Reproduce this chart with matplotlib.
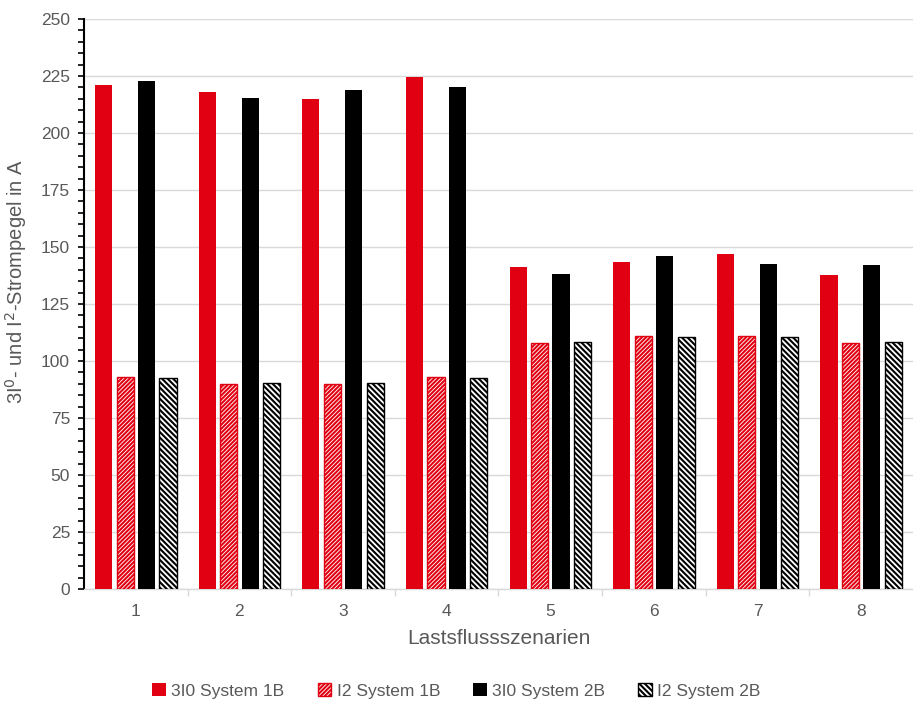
import matplotlib
matplotlib.use("Agg")
import matplotlib.pyplot as plt
import numpy as np

# Data
scenarios = ["1", "2", "3", "4", "5", "6", "7", "8"]
i0_sys1b = [221, 218, 215, 224.5, 141, 143.5, 147, 137.5]
i2_sys1b = [93, 90, 90, 93, 108, 111, 111, 108]
i0_sys2b = [223, 215.5, 219, 220, 138, 146, 142.5, 142]
i2_sys2b = [92.5, 90.5, 90.5, 92.5, 108.5, 110.5, 110.5, 108.5]
labels = ["3I0 System 1B", "I2 System 1B", "3I0 System 2B", "I2 System 2B"]

RED = "#e00012"
GREY_TXT = "#595959"

plt.rcParams["font.family"] = ["Liberation Sans", "DejaVu Sans"]
plt.rcParams["hatch.linewidth"] = 1.5

fig = plt.figure(figsize=(9.13, 7.02), dpi=100)
ax = fig.add_axes([0.092, 0.161, 0.908, 0.812])

x = np.arange(1, len(scenarios) + 1)
w = 0.165
pitch = 0.207
offs = [-1.5 * pitch, -0.5 * pitch, 0.5 * pitch, 1.5 * pitch]

ax.bar(x + offs[0], i0_sys1b, w, color=RED, label=labels[0], zorder=3)
ax.bar(x + offs[1], i2_sys1b, w, facecolor="white", edgecolor=RED,
       hatch="////////", linewidth=1.0, label=labels[1], zorder=3)
ax.bar(x + offs[2], i0_sys2b, w, color="black", label=labels[2], zorder=3)
ax.bar(x + offs[3], i2_sys2b, w, facecolor="white", edgecolor="black",
       hatch="\\\\\\\\\\\\", linewidth=1.0, label=labels[3], zorder=3)

ax.set_xlim(0.5, len(scenarios) + 0.5)
ax.set_ylim(0, 250)
ax.set_yticks(np.arange(0, 251, 25))
ax.set_yticks(np.arange(0, 251, 5), minor=True)
ax.set_xticks(x)
ax.set_xticklabels(scenarios)
ax.set_xticks(np.arange(1.5, len(scenarios) + 0.5, 1), minor=True)

ax.yaxis.grid(True, color="#d9d9d9", linewidth=1.0, zorder=0)
ax.set_axisbelow(True)

for s in ("top", "right"):
    ax.spines[s].set_visible(False)
ax.spines["left"].set_color("black")
ax.spines["left"].set_linewidth(1.5)
ax.spines["bottom"].set_color("#d9d9d9")
ax.spines["bottom"].set_linewidth(1.0)

ax.tick_params(axis="y", which="both", direction="out", length=4,
               width=1.2, color="black", labelsize=12.5, labelcolor=GREY_TXT,
               pad=6)
ax.tick_params(axis="x", which="major", length=0, pad=11,
               labelsize=12.5, labelcolor=GREY_TXT)
ax.tick_params(axis="x", which="minor", length=5, color="#d9d9d9", width=1.0)

ax.set_xlabel("Lastsflussszenarien", fontsize=15, color=GREY_TXT, labelpad=7)
ax.set_ylabel("3I$^0$- und I$^2$-Strompegel in A", fontsize=14.5,
              color=GREY_TXT)
ax.yaxis.set_label_coords(-0.066, 0.54)

fig.legend(loc="center", bbox_to_anchor=(0.5, 0.016), ncol=4, frameon=False,
           fontsize=12.5, handlelength=0.8, handleheight=0.8,
           handletextpad=0.3, columnspacing=1.9, labelcolor=GREY_TXT)

fig.savefig("out.png", dpi=100)
